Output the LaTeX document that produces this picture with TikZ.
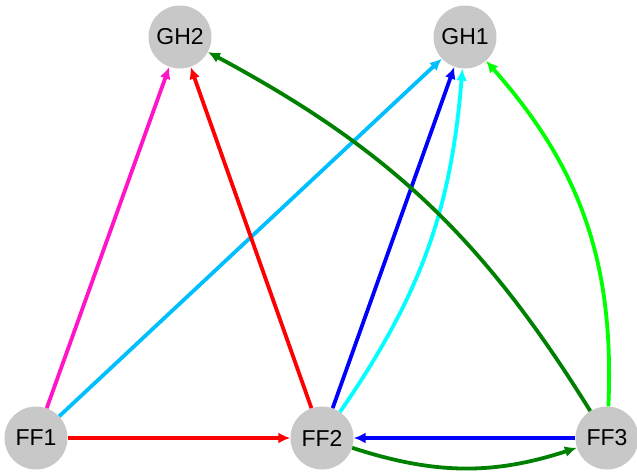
\documentclass[tikz,border=0pt]{standalone}
\usepackage{fontspec}
\setmainfont{Liberation Sans}
\usetikzlibrary{arrows.meta}
\definecolor{nodegray}{RGB}{200,200,200}
\definecolor{dsblue}{RGB}{0,191,255}
\definecolor{dgreen}{RGB}{0,128,0}
\definecolor{lime}{RGB}{0,255,0}
\definecolor{mag}{RGB}{255,20,200}
\definecolor{cyn}{RGB}{0,255,255}
\begin{document}
\begin{tikzpicture}[x=1pt,y=-1pt,
  vtx/.style={circle,fill=nodegray,minimum size=63pt,inner sep=0pt,font=\fontsize{23}{23}\selectfont},
  edge/.style={line width=3.8pt,-{Latex[length=12pt,width=11pt]}}]
\useasboundingbox (0,0) rectangle (637,472);
\node[vtx] (GH2) at (180,37) {GH2};
\node[vtx] (GH1) at (465,37) {GH1};
\node[vtx] (FF1) at (36,438) {FF1};
\node[vtx] (FF2) at (322,438) {FF2};
\node[vtx] (FF3) at (607,438) {FF3};
\draw[edge,mag] (FF1) -- (GH2);
\draw[edge,dsblue] (FF1) -- (GH1);
\draw[edge,red] (FF1) -- (FF2);
\draw[edge,red] (FF2) -- (GH2);
\draw[edge,blue] (FF2) -- (GH1);
\draw[edge,cyn] (FF2) to[bend right=15] (GH1);
\draw[edge,dgreen] (FF3) to[bend right=15] (GH2);
\draw[edge,lime] (FF3) to[bend right=22] (GH1);
\draw[edge,blue] (FF3) -- (FF2);
\draw[edge,dgreen] (FF2) to[bend right=18] (FF3);
\end{tikzpicture}
\end{document}
